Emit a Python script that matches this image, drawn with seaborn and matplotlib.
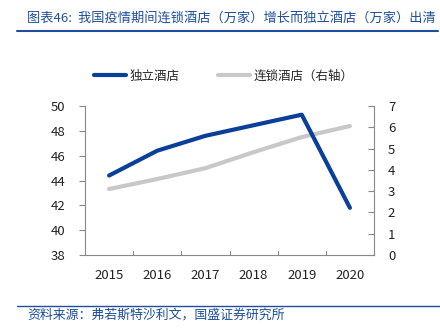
import matplotlib
matplotlib.use("Agg")
import matplotlib.pyplot as plt
import seaborn as sns
import pandas as pd
from matplotlib.lines import Line2D

years = ["2015", "2016", "2017", "2018", "2019", "2020"]
independent = [44.4, 46.4, 47.6, 48.45, 49.3, 41.8]
chain = [3.1, 3.57, 4.08, 4.83, 5.54, 6.06]
left_ticks = [38, 40, 42, 44, 46, 48, 50]
right_ticks = [0, 1, 2, 3, 4, 5, 6, 7]

sns.set_style("white")
plt.rcParams['font.family'] = ['Noto Sans CJK SC', 'DejaVu Sans']

BLUE = "#0a3f9a"
GRAY = "#c8c8c8"
TITLE_BLUE = "#1f4e9c"

df = pd.DataFrame({"year": years, "independent": independent, "chain": chain})

fig = plt.figure(figsize=(4.4, 3.33), dpi=100)
ax = fig.add_axes([85/440, 1-255/333, (374-85)/440, (255-106)/333])
ax2 = ax.twinx()

sns.lineplot(data=df, x="year", y="chain", ax=ax2, color=GRAY, linewidth=3, sort=False)
sns.lineplot(data=df, x="year", y="independent", ax=ax, color=BLUE, linewidth=3, sort=False)
ax.set_zorder(ax2.get_zorder() + 1)
ax.patch.set_visible(False)

ax.set_xlim(-0.5, 5.5)
ax.set_ylim(38, 50)
ax.set_yticks(left_ticks)
ax2.set_ylim(0, 7)
ax2.set_yticks(right_ticks)
ax.set_xlabel("")
ax.set_ylabel("")
ax2.set_ylabel("")

for a in (ax, ax2):
    for s in a.spines.values():
        s.set_visible(False)
    a.tick_params(labelsize=9.5, colors="#222222", length=0)
ax.spines["left"].set_visible(True)
ax.spines["bottom"].set_visible(True)
ax2.spines["right"].set_visible(True)
for s in (ax.spines["left"], ax.spines["bottom"], ax2.spines["right"]):
    s.set_color("#888888")
    s.set_linewidth(0.8)
ax.tick_params(axis="y", direction="out", length=4, color="#888888", pad=10)
ax2.tick_params(axis="y", direction="in", length=4, color="#888888", pad=10)
ax.set_xticks(range(len(years)))
ax.set_xticklabels(years)
ax.tick_params(axis="x", length=0, pad=10)
for xv in [0.5, 1.5, 2.5, 3.5, 4.5, 5.5]:
    ax.plot([xv, xv], [38, 38.3], color="#888888", lw=0.8, clip_on=False)

handles = [Line2D([], [], color=BLUE, lw=3), Line2D([], [], color=GRAY, lw=3)]
fig.legend(handles, ["独立酒店", "连锁酒店（右轴）"], loc="center left",
           bbox_to_anchor=(90/440, 1-76/333), ncol=2, frameon=False,
           fontsize=9, handlelength=2.6, columnspacing=3.0, handletextpad=0.3,
           borderaxespad=0, borderpad=0.3)

fig.text(27/440, 1-18/333, "图表46:  我国疫情期间连锁酒店（万家）增长而独立酒店（万家）出清",
         fontsize=9.5, color=TITLE_BLUE, style="italic", va="center", ha="left")
fig.add_artist(Line2D([17/440, 438/440], [1-31/333, 1-31/333], color=TITLE_BLUE, lw=1.5))
fig.add_artist(Line2D([17/440, 440/440], [1-306/333, 1-306/333], color=TITLE_BLUE, lw=1.0))
fig.text(27/440, 1-315/333, "资料来源：弗若斯特沙利文，国盛证券研究所",
         fontsize=9.3, color=TITLE_BLUE, style="italic", va="center", ha="left")

fig.savefig("out.png", dpi=100)
